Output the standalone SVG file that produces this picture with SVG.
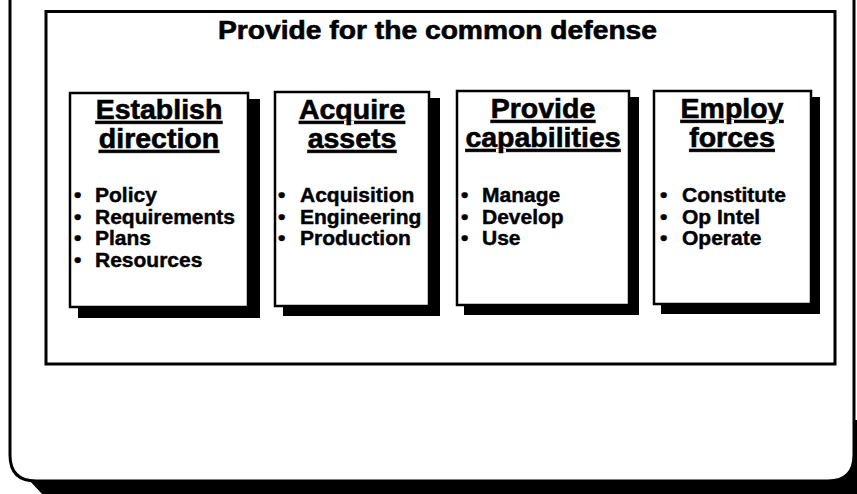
<svg xmlns="http://www.w3.org/2000/svg" width="857" height="494" viewBox="0 0 857 494">
<style>
text{font-family:"Liberation Sans",Arial,Helvetica,sans-serif;font-weight:bold;fill:#000}
.title{font-size:25px;stroke:#000;stroke-width:0.6}
.head{font-size:28.5px;text-anchor:middle;text-decoration:underline;stroke:#000;stroke-width:0.6}
.item{font-size:21px;stroke:#000;stroke-width:0.45}
.box{fill:#fff;stroke:#000;stroke-width:2.5}
.shadow{fill:#000}
</style>
<rect width="857" height="494" fill="#fff"/>
<g id="frame">
<path d="M28 479 L42 494 L857 494 L857 420 L853 420 L853 458 Q853 479 830 479 Z" fill="#000"/>
<path d="M10 -10 L10 455 Q10 481 36 481 L828 481 Q854 481 854 455 L854 -10" fill="#fff" stroke="#000" stroke-width="3"/>
</g>
<g id="container">
<rect x="46" y="11.5" width="789" height="352.5" fill="none" stroke="#000" stroke-width="3"/>
<text class="title" x="218" y="39" textLength="439" lengthAdjust="spacingAndGlyphs">Provide for the common defense</text>
</g>
<g id="establish-direction">
<rect class="shadow" x="78" y="99" width="182" height="219"/>
<rect class="box" x="70" y="93" width="178" height="214"/>
<text class="head" x="159" y="119">Establish</text>
<text class="head" x="159" y="148">direction</text>
<text class="item" x="74" y="202">•<tspan x="95">Policy</tspan></text>
<text class="item" x="74" y="223.5">•<tspan x="95">Requirements</tspan></text>
<text class="item" x="74" y="245">•<tspan x="95">Plans</tspan></text>
<text class="item" x="74" y="266.5">•<tspan x="95">Resources</tspan></text>
</g>
<g id="acquire-assets">
<rect class="shadow" x="283" y="98" width="157" height="218"/>
<rect class="box" x="275" y="92" width="154" height="214"/>
<text class="head" x="352" y="119">Acquire</text>
<text class="head" x="352" y="148">assets</text>
<text class="item" x="278" y="202">•<tspan x="300">Acquisition</tspan></text>
<text class="item" x="278" y="223.5">•<tspan x="300">Engineering</tspan></text>
<text class="item" x="278" y="245">•<tspan x="300">Production</tspan></text>
</g>
<g id="provide-capabilities">
<rect class="shadow" x="464" y="97" width="175" height="218"/>
<rect class="box" x="457" y="91" width="172" height="214"/>
<text class="head" x="543" y="118">Provide</text>
<text class="head" x="543" y="147">capabilities</text>
<text class="item" x="461" y="202">•<tspan x="482">Manage</tspan></text>
<text class="item" x="461" y="223.5">•<tspan x="482">Develop</tspan></text>
<text class="item" x="461" y="245">•<tspan x="482">Use</tspan></text>
</g>
<g id="employ-forces">
<rect class="shadow" x="661" y="97" width="159" height="217"/>
<rect class="box" x="654" y="91" width="157" height="213"/>
<text class="head" x="732" y="118">Employ</text>
<text class="head" x="732" y="147">forces</text>
<text class="item" x="660" y="202">•<tspan x="682">Constitute</tspan></text>
<text class="item" x="660" y="223.5">•<tspan x="682">Op Intel</tspan></text>
<text class="item" x="660" y="245">•<tspan x="682">Operate</tspan></text>
</g>
<g id="connectors"></g>
</svg>
